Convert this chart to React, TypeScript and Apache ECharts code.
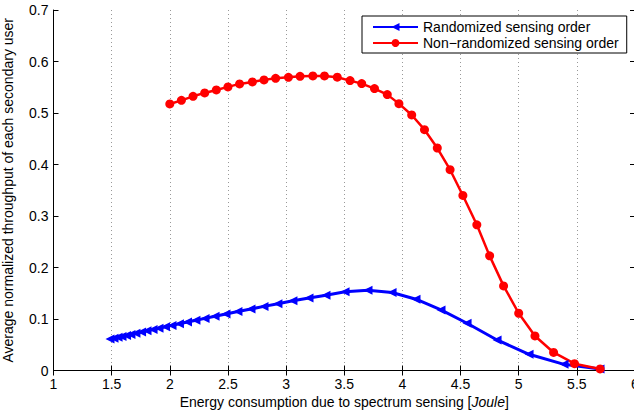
import React, { useEffect, useRef } from 'react';
import * as echarts from 'echarts';

const xTicks = [1, 1.5, 2, 2.5, 3, 3.5, 4, 4.5, 5, 5.5, 6];
const yTicks = [0, 0.1, 0.2, 0.3, 0.4, 0.5, 0.6, 0.7];

const blueName = 'Randomized sensing order';
const blueX = [
  1.486, 1.52, 1.555, 1.589, 1.628, 1.666, 1.709, 1.757, 1.804, 1.856, 1.907, 1.963,
  2.019, 2.083, 2.152, 2.225, 2.303, 2.389, 2.483, 2.586, 2.698, 2.81, 2.93, 3.059,
  3.197, 3.343, 3.507, 3.704, 3.911, 4.117, 4.332, 4.556, 4.814, 5.089, 5.39, 5.699,
];
const blueY = [
  0.061, 0.0627, 0.0645, 0.0662, 0.0681, 0.0701, 0.0722, 0.0746, 0.077, 0.0795, 0.0821, 0.0849,
  0.0876, 0.0907, 0.094, 0.0975, 0.1012, 0.1053, 0.1098, 0.1145, 0.1195, 0.1245, 0.1298, 0.1353,
  0.1408, 0.1463, 0.153, 0.156, 0.1515, 0.1384, 0.1176, 0.0918, 0.0593, 0.0315, 0.012, 0.003,
];

const redName = 'Non\u2212randomized sensing order';
const redX = [
  2.0, 2.1, 2.2, 2.3, 2.4, 2.5, 2.6, 2.71, 2.81, 2.91, 3.02, 3.12, 3.23, 3.33, 3.44, 3.55, 3.65,
  3.76, 3.87, 3.97, 4.08, 4.19, 4.3, 4.41, 4.52, 4.64, 4.75, 4.87, 5.0, 5.14, 5.3, 5.48, 5.7,
];
const redY = [
  0.5176, 0.5246, 0.5324, 0.539, 0.5448, 0.5507, 0.5565, 0.5604, 0.5643, 0.5674, 0.5693, 0.5713,
  0.572, 0.572, 0.5695, 0.5629, 0.5571, 0.5474, 0.5357, 0.5182, 0.4962, 0.4676, 0.432, 0.3899,
  0.3399, 0.2829, 0.2226, 0.1643, 0.1112, 0.0671, 0.035, 0.0132, 0.003,
];

const FONT = 'Liberation Sans';

export default function App() {
  const ref = useRef<HTMLDivElement>(null);
  useEffect(() => {
    const chart = echarts.init(ref.current!, null, { renderer: 'svg' });
    const axisLine = { show: true, lineStyle: { color: '#000', width: 1 } };
    const axisTick = { show: true, inside: true, length: 5, lineStyle: { color: '#000', width: 1 } };
    const xMin = xTicks[0];
    const xMax = xTicks[xTicks.length - 1];
    const xInt = xTicks[1] - xTicks[0];
    const yMin = yTicks[0];
    const yMax = yTicks[yTicks.length - 1];
    const yInt = 0.1;
    chart.setOption({
      animation: false,
      backgroundColor: '#fff',
      textStyle: { fontFamily: FONT },
      grid: {
        left: 53.5,
        top: 10,
        width: 581.5,
        height: 360.5,
        containLabel: false,
        outerBoundsMode: 'none',
      },
      legend: {
        orient: 'vertical',
        left: 362,
        top: 16,
        padding: [4, 8, 3, 10],
        itemGap: 2,
        itemWidth: 45,
        itemHeight: 10,
        backgroundColor: '#fff',
        borderColor: '#000',
        borderWidth: 1,
        borderRadius: 0,
        textStyle: { color: '#000', fontSize: 14, fontFamily: FONT, padding: [0, 0, 0, 0] },
        data: [blueName, redName],
      },
      xAxis: [
        {
          type: 'value',
          min: xMin,
          max: xMax,
          interval: xInt,
          position: 'bottom',
          axisLine,
          axisTick,
          axisLabel: { color: '#000', fontSize: 14, fontFamily: FONT, margin: 6 },
          splitLine: { show: true, lineStyle: { color: '#999', width: 1, type: [1, 3] } },
          name: '{n|Energy consumption due to spectrum sensing [}{i|Joule}{n|]}',
          nameLocation: 'middle',
          nameGap: 22,
          nameTextStyle: {
            rich: {
              n: { fontSize: 14, fontFamily: FONT, color: '#000' },
              i: { fontSize: 14, fontFamily: FONT, color: '#000', fontStyle: 'italic' },
            },
          },
        },
        {
          type: 'value',
          min: xMin,
          max: xMax,
          interval: xInt,
          position: 'top',
          axisLine,
          axisTick,
          axisLabel: { show: false },
          splitLine: { show: false },
        },
      ],
      yAxis: [
        {
          type: 'value',
          min: yMin,
          max: yMax,
          interval: yInt,
          position: 'left',
          axisLine,
          axisTick,
          axisLabel: { color: '#000', fontSize: 14, fontFamily: FONT, margin: 5 },
          splitLine: { show: false },
          name: 'Average normalized throughput of each secondary user',
          nameLocation: 'middle',
          nameGap: 39,
          nameTextStyle: { fontSize: 14, fontFamily: FONT, color: '#000' },
        },
        {
          type: 'value',
          min: yMin,
          max: yMax,
          interval: yInt,
          position: 'right',
          axisLine,
          axisTick,
          axisLabel: { show: false },
          splitLine: { show: false },
        },
      ],
      series: [
        {
          name: blueName,
          type: 'line',
          data: blueX.map((x, i) => [x, blueY[i]]),
          symbol: 'triangle',
          symbolRotate: 90,
          symbolSize: 9,
          showAllSymbol: true,
          color: '#0000ff',
          lineStyle: { color: '#0000ff', width: 3 },
          itemStyle: { color: '#0000ff' },
        },
        {
          name: redName,
          type: 'line',
          data: redX.map((x, i) => [x, redY[i]]),
          symbol: 'circle',
          symbolSize: 9,
          showAllSymbol: true,
          color: '#ff0000',
          lineStyle: { color: '#ff0000', width: 2.5 },
          itemStyle: { color: '#ff0000' },
        },
      ],
    });
    return () => chart.dispose();
  }, []);
  return (
    <div
      ref={ref}
      style={{ position: 'fixed', left: 0, top: 0, width: 634, height: 412, background: '#fff' }}
    />
  );
}
